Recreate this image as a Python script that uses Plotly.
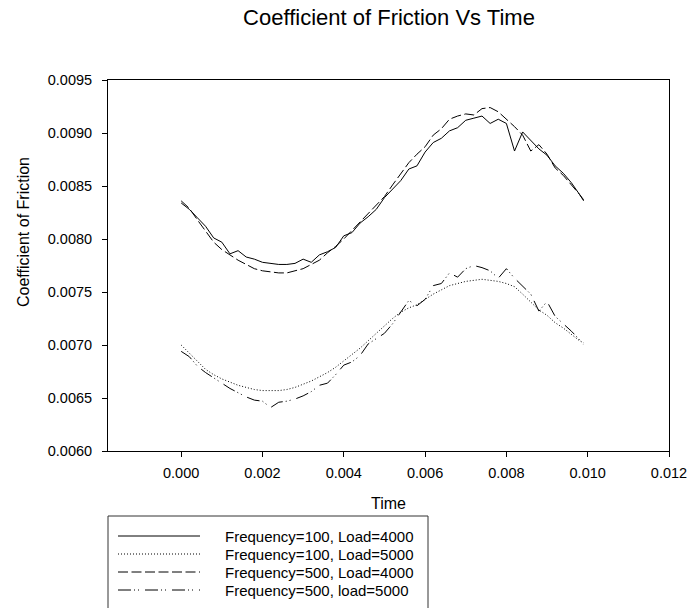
import plotly.graph_objects as go

time = [0.0000, 0.0002, 0.0004, 0.0006, 0.0008, 0.0010, 0.0012, 0.0014, 0.0016, 0.0018,
        0.0020, 0.0022, 0.0024, 0.0026, 0.0028, 0.0030, 0.0032, 0.0034, 0.0036, 0.0038,
        0.0040, 0.0042, 0.0044, 0.0046, 0.0048, 0.0050, 0.0052, 0.0054, 0.0056, 0.0058,
        0.0060, 0.0062, 0.0064, 0.0066, 0.0068, 0.0070, 0.0072, 0.0074, 0.0076, 0.0078,
        0.0080, 0.0082, 0.0084, 0.0086, 0.0088, 0.0090, 0.0092, 0.0094, 0.0096, 0.0098, 0.0099]

f100_l4000 = [0.00834, 0.00828, 0.00820, 0.00812, 0.00801, 0.00797, 0.00786, 0.00789, 0.00783, 0.00781,
              0.00778, 0.00777, 0.00776, 0.00776, 0.00777, 0.00781, 0.00778, 0.00785, 0.00788, 0.00792,
              0.00803, 0.00806, 0.00815, 0.00821, 0.00828, 0.00839, 0.00847, 0.00855, 0.00866, 0.00869,
              0.00882, 0.00891, 0.00895, 0.00902, 0.00905, 0.00912, 0.00914, 0.00916, 0.00909, 0.00913,
              0.00909, 0.00883, 0.00901, 0.00893, 0.00885, 0.00879, 0.00869, 0.00862, 0.00853, 0.00842, 0.00837]

f100_l5000 = [0.00700, 0.00692, 0.00684, 0.00677, 0.00672, 0.00668, 0.00665, 0.00662, 0.00660, 0.00658,
              0.00657, 0.00657, 0.00657, 0.00658, 0.00660, 0.00663, 0.00666, 0.00670, 0.00674, 0.00679,
              0.00685, 0.00691, 0.00697, 0.00704, 0.00711, 0.00718, 0.00725, 0.00731, 0.00735, 0.00738,
              0.00743, 0.00748, 0.00752, 0.00756, 0.00758, 0.00760, 0.00761, 0.00762, 0.00761, 0.00760,
              0.00758, 0.00755, 0.00748, 0.00740, 0.00733, 0.00728, 0.00721, 0.00716, 0.00710, 0.00704, 0.00702]

f500_l4000 = [0.00836, 0.00829, 0.00818, 0.00808, 0.00797, 0.00790, 0.00785, 0.00780, 0.00776, 0.00772,
              0.00770, 0.00769, 0.00768, 0.00768, 0.00770, 0.00772, 0.00776, 0.00780, 0.00787, 0.00793,
              0.00800, 0.00808, 0.00816, 0.00823, 0.00832, 0.00840, 0.00851, 0.00862, 0.00872, 0.00880,
              0.00887, 0.00898, 0.00904, 0.00913, 0.00916, 0.00918, 0.00917, 0.00923, 0.00924, 0.00920,
              0.00913, 0.00906, 0.00898, 0.00883, 0.00889, 0.00880, 0.00867, 0.00860, 0.00851, 0.00842, 0.00836]

f500_l5000 = [0.00694, 0.00689, 0.00680, 0.00674, 0.00669, 0.00664, 0.00659, 0.00655, 0.00651, 0.00648,
              0.00647, 0.00641, 0.00646, 0.00647, 0.00649, 0.00652, 0.00656, 0.00662, 0.00664, 0.00672,
              0.00681, 0.00684, 0.00690, 0.00701, 0.00706, 0.00711, 0.00720, 0.00731, 0.00742, 0.00737,
              0.00743, 0.00756, 0.00758, 0.00768, 0.00764, 0.00772, 0.00775, 0.00773, 0.00770, 0.00763,
              0.00772, 0.00763, 0.00755, 0.00748, 0.00732, 0.00741, 0.00727, 0.00720, 0.00713, 0.00705, 0.00700]

series_names = ["Frequency=100, Load=4000", "Frequency=100, Load=5000",
                "Frequency=500, Load=4000", "Frequency=500, load=5000"]
series_values = [f100_l4000, f100_l5000, f500_l4000, f500_l5000]
dashes = ["solid", "1px,2px", "10px,3.5px", "13px,3px,1px,3px,1px,6px"]

FONT = "Liberation Sans, Arial, sans-serif"
W, H = 691, 608
L, R, T, B = 108, 669, 80, 451

fig = go.Figure()
for name, vals, dash in zip(series_names, series_values, dashes):
    fig.add_trace(go.Scatter(x=time, y=vals, mode="lines", name=name,
                             line=dict(color="black", width=1, dash=dash),
                             showlegend=False))

def px_x(px):
    return (px - L) / (R - L)

def px_y(py):
    return (B - py) / (B - T)

shapes = [dict(type="rect", xref="paper", yref="paper",
               x0=px_x(108), x1=px_x(428), y0=px_y(516), y1=px_y(630),
               line=dict(color="#333333", width=1), fillcolor="rgba(0,0,0,0)")]
annotations = []
legend_y = [536, 554, 572, 590]
for name, dash, ly in zip(series_names, dashes, legend_y):
    shapes.append(dict(type="line", xref="paper", yref="paper",
                       x0=px_x(118), x1=px_x(200), y0=px_y(ly), y1=px_y(ly),
                       line=dict(color="black", width=1, dash=dash)))
    annotations.append(dict(xref="paper", yref="paper", x=px_x(223), y=px_y(ly),
                            xanchor="left", yanchor="middle", text=name, showarrow=False,
                            font=dict(family=FONT, size=15, color="black")))

# axis titles
annotations.append(dict(xref="paper", yref="paper", x=px_x(388), y=px_y(503),
                        xanchor="center", yanchor="middle", text="Time", showarrow=False,
                        font=dict(family=FONT, size=16, color="black")))
annotations.append(dict(xref="paper", yref="paper", x=px_x(23), y=px_y(232),
                        xanchor="center", yanchor="middle", text="Coefficient of Friction",
                        textangle=-90, showarrow=False,
                        font=dict(family=FONT, size=16, color="black")))

fig.update_layout(
    width=W, height=H,
    margin=dict(l=L, r=W - R, t=T, b=H - B, pad=0),
    paper_bgcolor="white", plot_bgcolor="white",
    font=dict(family=FONT, color="black"),
    title=dict(text="Coefficient of Friction Vs Time", x=389 / W, xanchor="center",
               y=1 - 17 / H, yanchor="middle", font=dict(size=22, family=FONT, color="black")),
    shapes=shapes, annotations=annotations,
    showlegend=False,
)
fig.update_xaxes(range=[-0.0018, 0.012], tick0=0, dtick=0.002, tickformat=".3f",
                 showline=True, linecolor="black", linewidth=1, mirror=True,
                 ticks="outside", ticklen=5, tickcolor="black",
                 showgrid=False, zeroline=False, automargin=False,
                 ticklabelstandoff=4,
                 tickfont=dict(size=14.5, family=FONT, color="black"))
fig.update_yaxes(range=[0.006, 0.0095], tick0=0.006, dtick=0.0005, tickformat=".4f",
                 showline=True, linecolor="black", linewidth=1, mirror=True,
                 ticks="outside", ticklen=5, tickcolor="black",
                 showgrid=False, zeroline=False, automargin=False,
                 ticklabelstandoff=7,
                 tickfont=dict(size=14.5, family=FONT, color="black"))

fig.write_html("out.html", config={"displayModeBar": False},
               post_script="document.body.style.margin='0px';document.body.style.overflow='hidden';")
